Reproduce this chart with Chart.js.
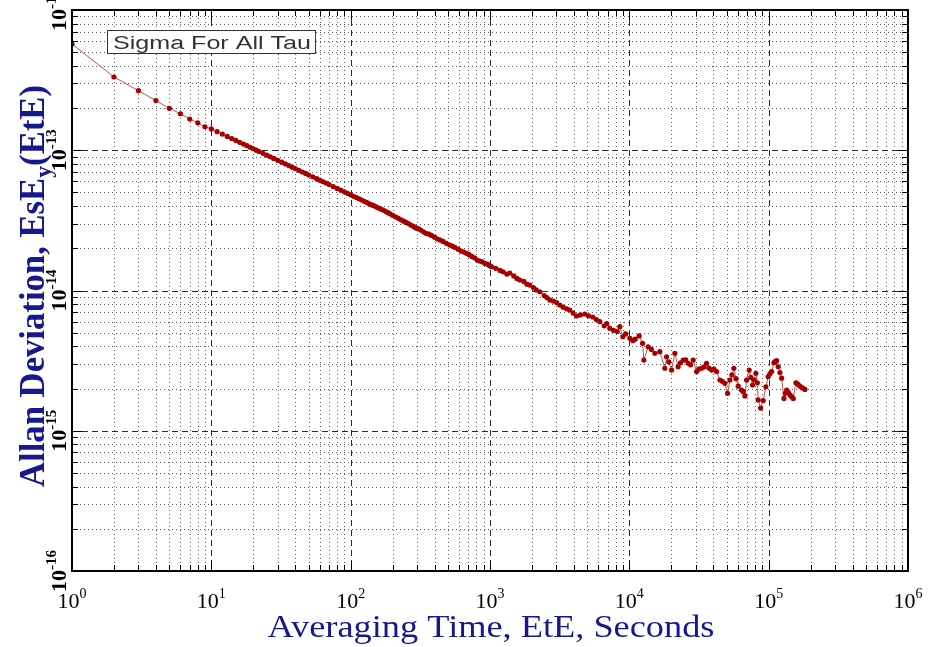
<!DOCTYPE html>
<html><head><meta charset="utf-8">
<script src="https://cdn.jsdelivr.net/npm/chart.js@4.4.0/dist/chart.umd.min.js"></script>
<style>html,body{margin:0;padding:0;background:#fff;overflow:hidden}#wrap{width:932px;height:647px}</style>
</head><body><div id="wrap"><canvas id="c" width="932" height="647"></canvas></div>
<script>
// ---- data (tau in seconds, sigma = Allan deviation) ----
const tau = [1,2,3,4,5,6,7,8,9,10,11,12,13,14,15,16,17,18,19,20,21,22,23.5,25,26.5,28,30,32,34,36,38,40,42.5,45,47.5,50,53.5,57,60,63,66.5,70,75,80,85,90,95,100,
  105,110,115,120,125,130,135,140,145,150,155,160,165,171,178,185,192,200,210,220,230,240,250,260,270,280,288,297,308,320,335,350,365,380,400,420,440,460,487,514,537,560,590,620,650,678,708,740,775,810,845,880,920,960,990,
  1024,1100,1180,1241,1320,1387,1480,1560,1636,1750,1840,1930,2050,2150,2277,2450,2560,2686,2850,3000,3170,3350,3550,3738,3950,4177,4450,4791,5100,5470,5800,6140,6600,6900,7244,7700,8200,8547,8981,9400,
  10084,10595,11000,11763,12440,12713,13646,14400,15247,16557,17984,18497,19200,20094,21219,22408,23300,24342,25400,26439,27500,28720,30380,31500,33000,34400,
  35843,37300,38930,40500,42290,44670,46500,48520,50730,52690,54500,56280,58300,60420,63910,65700,67500,69430,72470,74500,76660,78800,80960,83000,84100,87520,91360,
  95540,99260,102000,105000,109100,111500,114000,117100,120500,123900,128700,131600,134600,138300,142100,146000,150100,156900,162000,167600,175000,182100];
const sigma = [5.72e-13,3.33e-13,2.66e-13,2.26e-13,1.99e-13,1.82e-13,1.67e-13,1.57e-13,1.47e-13,1.42e-13,1.357e-13,1.304e-13,1.255e-13,1.213e-13,1.175e-13,1.139e-13,1.107e-13,1.078e-13,1.050e-13,1.025e-13,1.002e-13,9.80e-14,9.50e-14,9.23e-14,8.98e-14,8.75e-14,8.47e-14,8.22e-14,7.99e-14,7.77e-14,7.58e-14,7.40e-14,7.19e-14,7.00e-14,6.83e-14,6.66e-14,6.46e-14,6.27e-14,6.12e-14,5.98e-14,5.83e-14,5.69e-14,5.51e-14,5.34e-14,5.19e-14,5.05e-14,4.93e-14,4.81e-14,
  4.70e-14,4.60e-14,4.51e-14,4.42e-14,4.33e-14,4.25e-14,4.17e-14,4.10e-14,4.04e-14,3.98e-14,3.92e-14,3.86e-14,3.81e-14,3.75e-14,3.67e-14,3.59e-14,3.52e-14,3.44e-14,3.35e-14,3.27e-14,3.19e-14,3.12e-14,3.06e-14,3.00e-14,2.93e-14,2.88e-14,2.83e-14,2.78e-14,2.75e-14,2.69e-14,2.61e-14,2.55e-14,2.52e-14,2.47e-14,2.40e-14,2.33e-14,2.29e-14,2.24e-14,2.17e-14,2.11e-14,2.07e-14,2.03e-14,1.97e-14,1.91e-14,1.88e-14,1.84e-14,1.80e-14,1.75e-14,1.71e-14,1.65e-14,1.62e-14,1.60e-14,1.56e-14,1.54e-14,1.51e-14,
  1.478e-14,1.44e-14,1.39e-14,1.361e-14,1.31e-14,1.333e-14,1.27e-14,1.22e-14,1.188e-14,1.16e-14,1.11e-14,1.094e-14,1.05e-14,1.01e-14,9.80e-15,9.2e-15,8.9e-15,8.56e-15,8.4e-15,8.2e-15,7.88e-15,7.6e-15,7.4e-15,7.26e-15,6.9e-15,6.58e-15,6.7e-15,6.80e-15,6.6e-15,6.47e-15,6.2e-15,5.99e-15,5.6e-15,5.8e-15,5.38e-15,5.2e-15,5.1e-15,5.52e-15,4.68e-15,4.9e-15,
  4.56e-15,4.39e-15,4.5e-15,4.74e-15,4.20e-15,3.19e-15,3.97e-15,3.8e-15,3.57e-15,3.66e-15,2.79e-15,3.37e-15,3.1e-15,2.71e-15,3.57e-15,2.86e-15,3.05e-15,3.19e-15,3.2e-15,3.03e-15,2.95e-15,3.19e-15,2.64e-15,2.75e-15,2.79e-15,2.85e-15,
  3.03e-15,2.8e-15,2.71e-15,2.75e-15,2.64e-15,2.30e-15,2.25e-15,2.18e-15,1.85e-15,2.30e-15,2.5e-15,2.79e-15,2.35e-15,2.08e-15,1.95e-15,1.9e-15,1.77e-15,2.30e-15,2.71e-15,2.4e-15,2.12e-15,2.3e-15,2.57e-15,2.2e-15,1.66e-15,1.45e-15,1.64e-15,
  2.06e-15,2.43e-15,2.55e-15,2.64e-15,3.06e-15,3.12e-15,3.16e-15,2.86e-15,2.6e-15,2.37e-15,1.70e-15,1.85e-15,1.95e-15,1.88e-15,1.80e-15,1.75e-15,1.70e-15,2.20e-15,2.15e-15,2.08e-15,2.02e-15,1.97e-15];
const xDecades = [1,10,100,1e3,1e4,1e5,1e6];
const xTickLabels = [['10','0'],['10','1'],['10','2'],['10','3'],['10','4'],['10','5'],['10','6']];
const yDecades = [1e-16,1e-15,1e-14,1e-13,1e-12];
const yTickLabels = [['10','-16'],['10','-15'],['10','-14'],['10','-13'],['10','-12']];
const minorSteps = [2,3,4,5,6,7,8,9];
const legendText = 'Sigma For All Tau';
const xTitle = 'Averaging Time, EtE, Seconds';
const yTitleParts = ['Allan Deviation, EsE','y','(EtE)'];

const BLUE = '#17178f';
const SERIF = '"Liberation Serif","Times New Roman",serif';

function drawRuns(ctx, runs, scale) {
  let x = 0;
  for (const r of runs) {
    ctx.font = r.font;
    ctx.save(); ctx.scale(scale, 1);
    ctx.fillText(r.t, x / scale, r.dy);
    ctx.restore();
    x += ctx.measureText(r.t).width * scale;
  }
}
function runsWidth(ctx, runs) {
  let w = 0;
  for (const r of runs) { ctx.font = r.font; w += ctx.measureText(r.t).width; }
  return w;
}

const frame = {
  id: 'frame',
  beforeDatasetsDraw(chart) {
    const {ctx, chartArea: a, scales: {x, y}} = chart;
    ctx.save();
    ctx.beginPath(); ctx.rect(a.left, a.top, a.right - a.left, a.bottom - a.top); ctx.clip();
    ctx.lineWidth = 1;
    ctx.strokeStyle = '#5a5a5a'; ctx.setLineDash([1, 3]);
    for (let i = 0; i < xDecades.length - 1; i++) for (const m of minorSteps) {
      const p = Math.round(x.getPixelForValue(xDecades[i] * m)) + 0.5;
      ctx.beginPath(); ctx.moveTo(p, a.top); ctx.lineTo(p, a.bottom); ctx.stroke();
    }
    for (let i = 0; i < yDecades.length - 1; i++) for (const m of minorSteps) {
      const p = Math.round(y.getPixelForValue(yDecades[i] * m)) + 0.5;
      ctx.beginPath(); ctx.moveTo(a.left, p); ctx.lineTo(a.right, p); ctx.stroke();
    }
    ctx.strokeStyle = '#2a2a2a'; ctx.setLineDash([6, 4]);
    for (const d of xDecades) {
      const p = Math.round(x.getPixelForValue(d)) + 0.5;
      ctx.beginPath(); ctx.moveTo(p, a.top); ctx.lineTo(p, a.bottom); ctx.stroke();
    }
    for (const d of yDecades) {
      const p = Math.round(y.getPixelForValue(d)) + 0.5;
      ctx.beginPath(); ctx.moveTo(a.left, p); ctx.lineTo(a.right, p); ctx.stroke();
    }
    ctx.restore();
  },
  afterDatasetsDraw(chart) {
    const {ctx, chartArea: a, scales: {x, y}} = chart;
    ctx.save();
    ctx.setLineDash([]);
    ctx.strokeStyle = '#000'; ctx.lineWidth = 1;
    const tick = (p, len, vertical) => {
      ctx.beginPath();
      if (vertical) {
        ctx.moveTo(p, a.bottom); ctx.lineTo(p, a.bottom - len);
        ctx.moveTo(p, a.top); ctx.lineTo(p, a.top + len);
      } else {
        ctx.moveTo(a.left, p); ctx.lineTo(a.left + len, p);
        ctx.moveTo(a.right, p); ctx.lineTo(a.right - len, p);
      }
      ctx.stroke();
    };
    for (let i = 0; i < xDecades.length; i++) {
      tick(Math.round(x.getPixelForValue(xDecades[i])) + 0.5, 10, true);
      if (i < xDecades.length - 1) for (const m of minorSteps) tick(Math.round(x.getPixelForValue(xDecades[i] * m)) + 0.5, 6, true);
    }
    for (let i = 0; i < yDecades.length; i++) {
      tick(Math.round(y.getPixelForValue(yDecades[i])) + 0.5, 10, false);
      if (i < yDecades.length - 1) for (const m of minorSteps) tick(Math.round(y.getPixelForValue(yDecades[i] * m)) + 0.5, 6, false);
    }
    ctx.lineWidth = 2;
    ctx.strokeRect(a.left, a.top, a.right - a.left, a.bottom - a.top);

    // legend box
    ctx.lineWidth = 1; ctx.strokeStyle = '#333';
    ctx.fillStyle = '#fff';
    ctx.fillRect(107.5, 30.5, 208, 23);
    ctx.strokeRect(107.5, 30.5, 208, 23);
    ctx.fillStyle = '#333';
    ctx.font = '18px "Liberation Sans", Arial, sans-serif';
    {
      const w = ctx.measureText(legendText).width;
      ctx.save(); ctx.translate(113, 48.5); ctx.scale(198 / w, 1); ctx.textBaseline = 'alphabetic';
      ctx.fillText(legendText, 0, 0); ctx.restore();
    }

    // x tick labels
    ctx.fillStyle = '#000'; ctx.textBaseline = 'alphabetic';
    xDecades.forEach((d, i) => {
      const runs = [{t: xTickLabels[i][0], font: '22px ' + SERIF, dy: 0}, {t: xTickLabels[i][1], font: '14px ' + SERIF, dy: -10}];
      const w = runsWidth(ctx, runs);
      ctx.save(); ctx.translate(x.getPixelForValue(d) - w / 2, 608); drawRuns(ctx, runs, 1); ctx.restore();
    });
    // y tick labels (rotated)
    yDecades.forEach((d, i) => {
      const runs = [{t: yTickLabels[i][0], font: 'bold 22px ' + SERIF, dy: 0}, {t: yTickLabels[i][1], font: 'bold 15px ' + SERIF, dy: -10}];
      const w = runsWidth(ctx, runs);
      ctx.save(); ctx.translate(66, y.getPixelForValue(d)); ctx.rotate(-Math.PI / 2); ctx.translate(-w / 2, 0);
      drawRuns(ctx, runs, 1); ctx.restore();
    });

    // axis titles
    ctx.fillStyle = BLUE;
    {
      const runs = [{t: xTitle, font: '31px ' + SERIF, dy: 0}];
      const w = runsWidth(ctx, runs); const s = 447 / w;
      ctx.save(); ctx.translate(491 - 447 / 2, 637); drawRuns(ctx, runs, s); ctx.restore();
    }
    {
      const runs = [{t: yTitleParts[0], font: 'bold 35px ' + SERIF, dy: 0},
                    {t: yTitleParts[1], font: 'bold 24px ' + SERIF, dy: 7},
                    {t: yTitleParts[2], font: 'bold 35px ' + SERIF, dy: 0}];
      const w = runsWidth(ctx, runs); const L = 402; const s = L / w;
      ctx.save(); ctx.translate(44, 286); ctx.rotate(-Math.PI / 2); ctx.translate(-L / 2, 0);
      drawRuns(ctx, runs, s); ctx.restore();
    }
    ctx.restore();
  }
};

const points = tau.map((t, i) => ({x: t, y: sigma[i]})).sort((p, q) => p.x - q.x);

new Chart(document.getElementById('c'), {
  type: 'line',
  data: {
    datasets: [{
      data: points,
      borderColor: 'rgba(185,50,50,0.85)',
      borderWidth: 1,
      pointRadius: 2.6,
      pointBackgroundColor: '#a50000',
      pointBorderColor: '#a50000',
      pointBorderWidth: 0,
      tension: 0
    }]
  },
  options: {
    responsive: false, animation: false, devicePixelRatio: 1, events: [],
    layout: {padding: {left: 72, right: 24, top: 10, bottom: 76}},
    plugins: {legend: {display: false}, tooltip: {enabled: false}, title: {display: false}},
    scales: {
      x: {type: 'logarithmic', min: 1, max: 1e6, display: false},
      y: {type: 'logarithmic', min: 1e-16, max: 1e-12, display: false}
    }
  },
  plugins: [frame]
});
</script>
</body></html>
